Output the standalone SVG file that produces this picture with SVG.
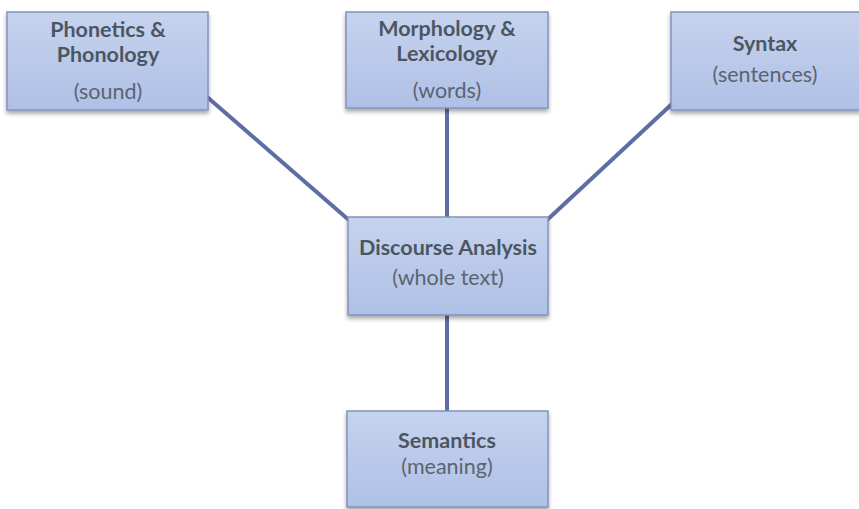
<svg xmlns="http://www.w3.org/2000/svg" width="859" height="509" viewBox="0 0 859 509">
<defs>
<linearGradient id="g" x1="0" y1="0" x2="0" y2="1">
<stop offset="0" stop-color="#c6d3ee"/>
<stop offset="1" stop-color="#afc0e6"/>
</linearGradient>
<filter id="sh" x="-10%" y="-10%" width="120%" height="130%">
<feGaussianBlur in="SourceAlpha" stdDeviation="2"/>
<feOffset dx="0" dy="3" result="b"/>
<feComponentTransfer><feFuncA type="linear" slope="0.35"/></feComponentTransfer>
<feMerge><feMergeNode/><feMergeNode in="SourceGraphic"/></feMerge>
</filter>
</defs>
<style>
.box{fill:url(#g);stroke:#8493bb;stroke-width:1.5;filter:url(#sh)}
.t{font-family:Lato,"Open Sans","Liberation Sans",sans-serif;font-weight:bold;font-size:21.5px;fill:#4c5662;text-anchor:middle}
.s{font-family:Lato,"Open Sans","Liberation Sans",sans-serif;font-size:21.5px;fill:#5a6470;text-anchor:middle}
.c{stroke:#5c6ea3;stroke-width:4;fill:none}
</style>
<rect width="859" height="509" fill="#ffffff"/>
<g id="connectors">
<line class="c" x1="206" y1="96" x2="350" y2="221"/>
<line class="c" x1="447" y1="108" x2="447" y2="218"/>
<line class="c" x1="673" y1="103" x2="546" y2="221"/>
<line class="c" x1="447" y1="314" x2="447" y2="411"/>
</g>
<g id="phonetics">
<rect class="box" x="7" y="12" width="201" height="98"/>
<text class="t" x="108" y="37">Phonetics &amp;</text>
<text class="t" x="108" y="62">Phonology</text>
<text class="s" x="108" y="99">(sound)</text>
</g>
<g id="morphology">
<rect class="box" x="346" y="12" width="202" height="96"/>
<text class="t" x="447" y="36">Morphology &amp;</text>
<text class="t" x="447" y="61">Lexicology</text>
<text class="s" x="447" y="98">(words)</text>
</g>
<g id="syntax">
<rect class="box" x="671" y="12" width="190" height="98"/>
<text class="t" x="765" y="51">Syntax</text>
<text class="s" x="765" y="82">(sentences)</text>
</g>
<g id="discourse">
<rect class="box" x="348" y="217" width="200" height="98"/>
<text class="t" x="448" y="255">Discourse Analysis</text>
<text class="s" x="448" y="285">(whole text)</text>
</g>
<g id="semantics">
<rect class="box" x="347" y="411" width="201" height="96"/>
<text class="t" x="447" y="448">Semantics</text>
<text class="s" x="447" y="474">(meaning)</text>
</g>
</svg>
